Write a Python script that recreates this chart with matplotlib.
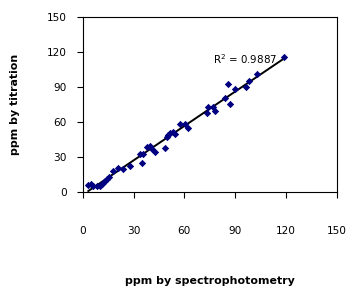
import numpy as np
import matplotlib
matplotlib.use("Agg")
import matplotlib.pyplot as plt

# values
spectro = [3.3, 4.7, 6.3, 8.3, 10.2, 11.2, 12.2, 13.2, 14.2, 15.5, 17.7, 21.0, 24.0,
           28.0, 33.9, 34.8, 35.8, 38.2, 39.8, 40.7, 42.7, 48.6, 49.6, 50.6, 51.6,
           53.2, 54.5, 57.5, 60.4, 62.0, 73.2, 74.2, 77.2, 78.1, 84.0, 85.6, 86.8,
           90.0, 96.5, 98.2, 102.8, 118.9]
titration = [6.3, 6.8, 5.7, 5.7, 5.7, 6.8, 8.3, 9.4, 11.1, 12.8, 18.5, 21.0, 19.7,
             22.6, 32.9, 24.9, 32.9, 39.1, 40.0, 36.9, 34.9, 38.3, 47.1, 49.1, 50.6,
             52.0, 50.0, 58.3, 58.3, 54.9, 67.7, 73.4, 73.4, 69.7, 80.6, 92.9, 75.4,
             88.3, 90.0, 95.7, 101.4, 115.7]
ticks = [0, 30, 60, 90, 120, 150]
r2_label = "R$^2$ = 0.9887"

x = np.array(spectro)
y = np.array(titration)
slope, intercept = np.polyfit(x, y, 1)
xs = np.array([x.min(), x.max()])

fig = plt.figure(figsize=(3.59, 2.97), dpi=100)
ax = fig.add_axes([0.2304, 0.3525, 0.7076, 0.5893])

ax.plot(xs, slope * xs + intercept, color="black", linewidth=1.4, zorder=2)
ax.scatter(x, y, marker="D", s=14, color="#000080", zorder=3, linewidths=0)

ax.set_xlim(0, 150)
ax.set_ylim(0, 150)
ax.set_xticks(ticks)
ax.set_yticks(ticks)
ax.tick_params(axis="y", direction="out", length=4, width=0.8, pad=7.5, labelsize=7.6)
ax.tick_params(axis="x", direction="out", length=4, width=0.8, pad=20, labelsize=7.6)
for s in ax.spines.values():
    s.set_linewidth(0.8)

ax.text(77, 114, r2_label, fontsize=7.4, ha="left", va="center")

ax.set_xlabel("ppm by spectrophotometry", fontsize=7.9, fontweight="bold", labelpad=29)
ax.set_ylabel("ppm by titration", fontsize=7.9, fontweight="bold", labelpad=19)

fig.savefig("out.png", dpi=100)
